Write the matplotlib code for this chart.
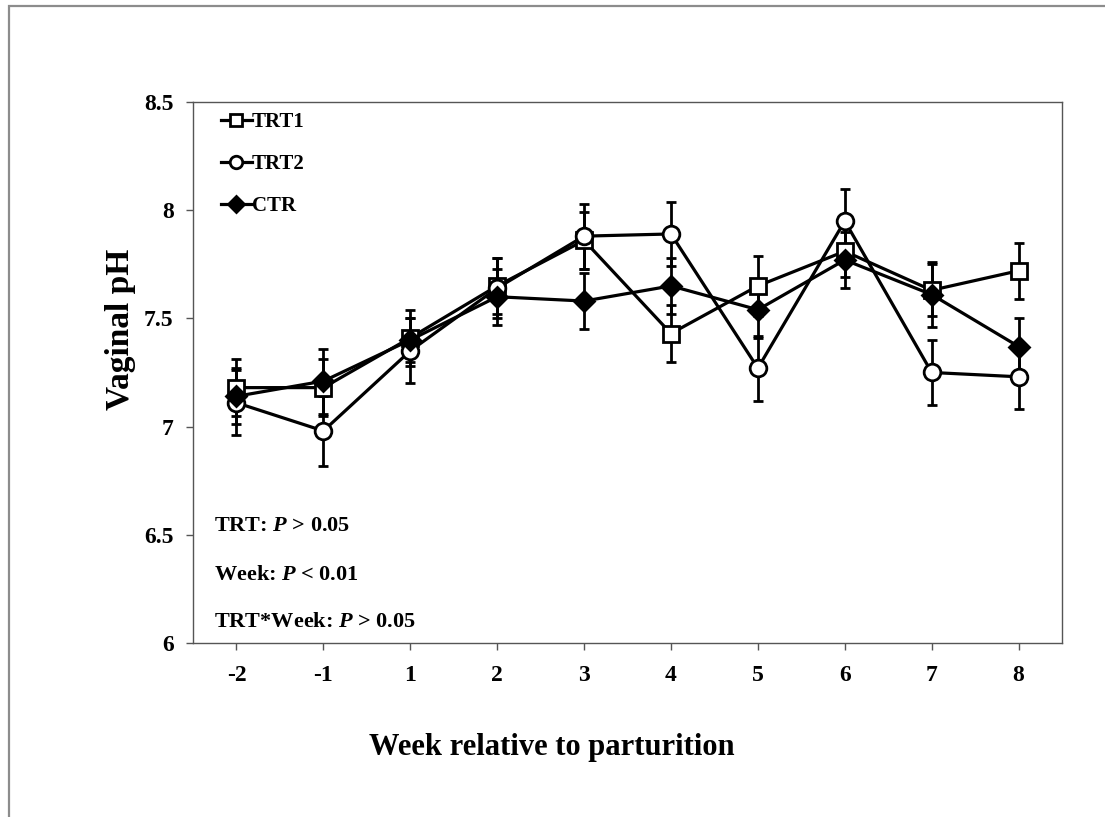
import matplotlib
matplotlib.use("Agg")
import matplotlib.pyplot as plt
from matplotlib.patches import Rectangle
from matplotlib.lines import Line2D
import numpy as np

plt.rcParams["font.family"] = ["Liberation Serif", "DejaVu Serif"]
plt.rcParams["font.weight"] = "bold"
plt.rcParams["mathtext.fontset"] = "custom"
plt.rcParams["mathtext.it"] = "Liberation Serif:italic:bold"
plt.rcParams["mathtext.rm"] = "Liberation Serif:bold"

weeks = ["-2", "-1", "1", "2", "3", "4", "5", "6", "7", "8"]

trt1 = [7.18, 7.18, 7.41, 7.65, 7.86, 7.43, 7.65, 7.81, 7.63, 7.72]
trt1_se = [0.13, 0.13, 0.13, 0.13, 0.13, 0.13, 0.14, 0.12, 0.12, 0.13]

trt2 = [7.11, 6.98, 7.35, 7.64, 7.88, 7.89, 7.27, 7.95, 7.25, 7.23]
trt2_se = [0.15, 0.16, 0.15, 0.14, 0.15, 0.15, 0.15, 0.15, 0.15, 0.15]

ctr = [7.14, 7.21, 7.40, 7.60, 7.58, 7.65, 7.54, 7.77, 7.61, 7.37]
ctr_se = [0.13, 0.15, 0.10, 0.13, 0.13, 0.13, 0.13, 0.13, 0.15, 0.13]

fig = plt.figure(figsize=(11.05, 8.17), dpi=100)
ax = fig.add_axes([0.1747, 0.2130, 0.7864, 0.6622])

# thin grey frame around the whole chart area
fig.patches.append(Rectangle((9 / 1105, -0.05), 1.2, 1 - 6 / 817 + 0.05,
                             transform=fig.transFigure, fill=False,
                             edgecolor="#8c8c8c", lw=1.6))

x = np.arange(len(weeks))
common = dict(color="black", lw=2.3, elinewidth=2.0, capsize=3.5, capthick=2.0,
              markersize=12, markeredgewidth=2.0, markeredgecolor="black")
ax.errorbar(x, trt1, yerr=trt1_se, marker="s", markerfacecolor="white", **common)
ax.errorbar(x, trt2, yerr=trt2_se, marker="o", markerfacecolor="white", **common)
ax.errorbar(x, ctr, yerr=ctr_se, marker="D", markerfacecolor="black",
            **dict(common, markersize=10))

ax.set_xlim(-0.5, 9.5)
ax.set_ylim(6, 8.5)
ax.set_yticks([6, 6.5, 7, 7.5, 8, 8.5])
ax.set_yticklabels(["6", "6.5", "7", "7.5", "8", "8.5"])
ax.set_xticks(x)
ax.set_xticklabels(weeks)
ax.tick_params(labelsize=17, length=5, width=1, color="#555555")
ax.tick_params(axis="y", pad=9)
ax.tick_params(axis="x", pad=11)
for s in ax.spines.values():
    s.set_color("#555555")
    s.set_linewidth(1.0)

ax.set_ylabel("Vaginal pH", fontsize=24, fontweight="bold")
ax.yaxis.set_label_coords(-0.066, 0.58)
ax.set_xlabel("Week relative to parturition", fontsize=22, fontweight="bold")
ax.xaxis.set_label_coords(0.413, -0.167)

handles = [
    Line2D([], [], color="black", lw=2.3, marker="s", ms=9, mew=2,
           mfc="white", mec="black", label="TRT1"),
    Line2D([], [], color="black", lw=2.3, marker="o", ms=9, mew=2,
           mfc="white", mec="black", label="TRT2"),
    Line2D([], [], color="black", lw=2.3, marker="D", ms=8, mew=2,
           mfc="black", mec="black", label="CTR"),
]
ax.legend(handles=handles, loc="upper left", frameon=False, fontsize=15,
          handlelength=1.5, handletextpad=0.0, labelspacing=1.05,
          borderaxespad=0.1, bbox_to_anchor=(0.02, 1.0))

stats = [("TRT: ", " > 0.05"), ("Week: ", " < 0.01"), ("TRT*Week: ", " > 0.05")]
stat_y = [0.216, 0.126, 0.039]
for (a, b), yy in zip(stats, stat_y):
    ax.text(0.024, yy, a + r"$\mathit{P}$" + b,
            transform=ax.transAxes, fontsize=16, fontweight="bold",
            va="center")

fig.savefig("out.png", dpi=100)
